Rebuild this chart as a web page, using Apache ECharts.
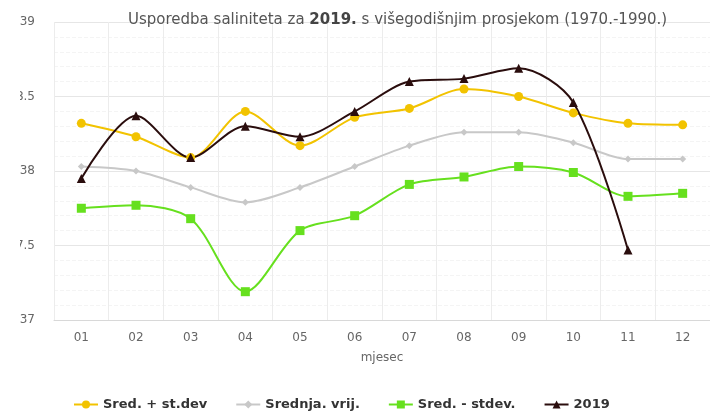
<!DOCTYPE html>
<html>
<head>
<meta charset="utf-8">
<script src="https://cdn.jsdelivr.net/npm/echarts@6/dist/echarts.min.js"></script>
<style>
  html, body { margin: 0; padding: 0; background: #fff; }
  #wrap { position: absolute; left: 20px; top: 0; width: 690px; height: 419px; overflow: hidden; }
  #main { position: absolute; left: -20px; top: 0; width: 710px; height: 419px; }
</style>
</head>
<body>
<div id="wrap"><div id="main"></div></div>
<script>
// mjeseci
const months = ['01', '02', '03', '04', '05', '06', '07', '08', '09', '10', '11', '12'];

// salinitet, očitano s grafa
const sredPlus = [38.32, 38.23, 38.09, 38.40, 38.17, 38.36, 38.42, 38.55, 38.50, 38.39, 38.32, 38.31];
const srednja = [38.03, 38.00, 37.89, 37.79, 37.89, 38.03, 38.17, 38.26, 38.26, 38.19, 38.08, 38.08];
const sredMinus = [37.75, 37.77, 37.68, 37.19, 37.60, 37.70, 37.91, 37.96, 38.03, 37.99, 37.83, 37.85];
const god2019 = [37.95, 38.37, 38.09, 38.30, 38.23, 38.40, 38.60, 38.62, 38.69, 38.46, 37.47, null];

const chart = echarts.init(document.getElementById('main'), null, { renderer: 'canvas' });

function line(name, data, color, symbol, size) {
  return {
    name: name,
    type: 'line',
    data: data,
    smooth: 0.3,
    symbol: symbol,
    symbolSize: size,
    lineStyle: { color: color, width: 2 },
    itemStyle: { color: color },
    emphasis: { disabled: true },
  };
}

chart.setOption({
  animation: false,
  title: {
    text: 'Usporedba saliniteta za {b|2019.} s višegodišnjim prosjekom (1970.-1990.)',
    left: 123,
    top: 8,
    textStyle: {
      fontFamily: 'DejaVu Sans',
      fontSize: 15,
      fontWeight: 'normal',
      color: '#555',
      rich: { b: { fontFamily: 'DejaVu Sans', fontSize: 15, fontWeight: 'bold', color: '#444' } },
    },
  },
  grid: { left: 54, top: 22, width: 668, height: 298 },
  xAxis: {
    type: 'category',
    data: months,
    boundaryGap: true,
    name: 'mjesec',
    nameLocation: 'middle',
    nameGap: 32,
    nameTextStyle: { fontFamily: 'DejaVu Sans', fontSize: 12, color: '#666' },
    axisLine: { lineStyle: { color: '#d8d8d8' } },
    axisTick: { show: false },
    axisLabel: { fontFamily: 'DejaVu Sans', fontSize: 12, color: '#666', margin: 12 },
    splitLine: { show: true, lineStyle: { color: '#ececec' } },
  },
  yAxis: {
    type: 'value',
    min: 37,
    max: 39,
    interval: 0.5,
    axisLine: { show: false },
    axisTick: { show: false },
    axisLabel: { fontFamily: 'DejaVu Sans', fontSize: 12, color: '#666', margin: 19 },
    splitLine: { lineStyle: { color: '#e6e6e6' } },
    minorTick: { show: false, splitNumber: 5 },
    minorSplitLine: { show: true, lineStyle: { color: '#f4f4f4', type: 'dashed' } },
  },
  legend: {
    left: 68,
    bottom: 3,
    itemGap: 28,
    itemWidth: 24,
    itemHeight: 10,
    textStyle: { fontFamily: 'DejaVu Sans', fontSize: 13, fontWeight: 'bold', color: '#333' },
    data: ['Sred. + st.dev', 'Srednja. vrij.', 'Sred. - stdev.', '2019'],
  },
  series: [
    line('Sred. + st.dev', sredPlus, '#f2c300', 'circle', 9),
    line('Srednja. vrij.', srednja, '#c8c8c8', 'diamond', 7),
    line('Sred. - stdev.', sredMinus, '#66e01e', 'rect', 9),
    line('2019', god2019, '#2a0d0d', 'triangle', 9),
  ],
});
</script>
</body>
</html>
